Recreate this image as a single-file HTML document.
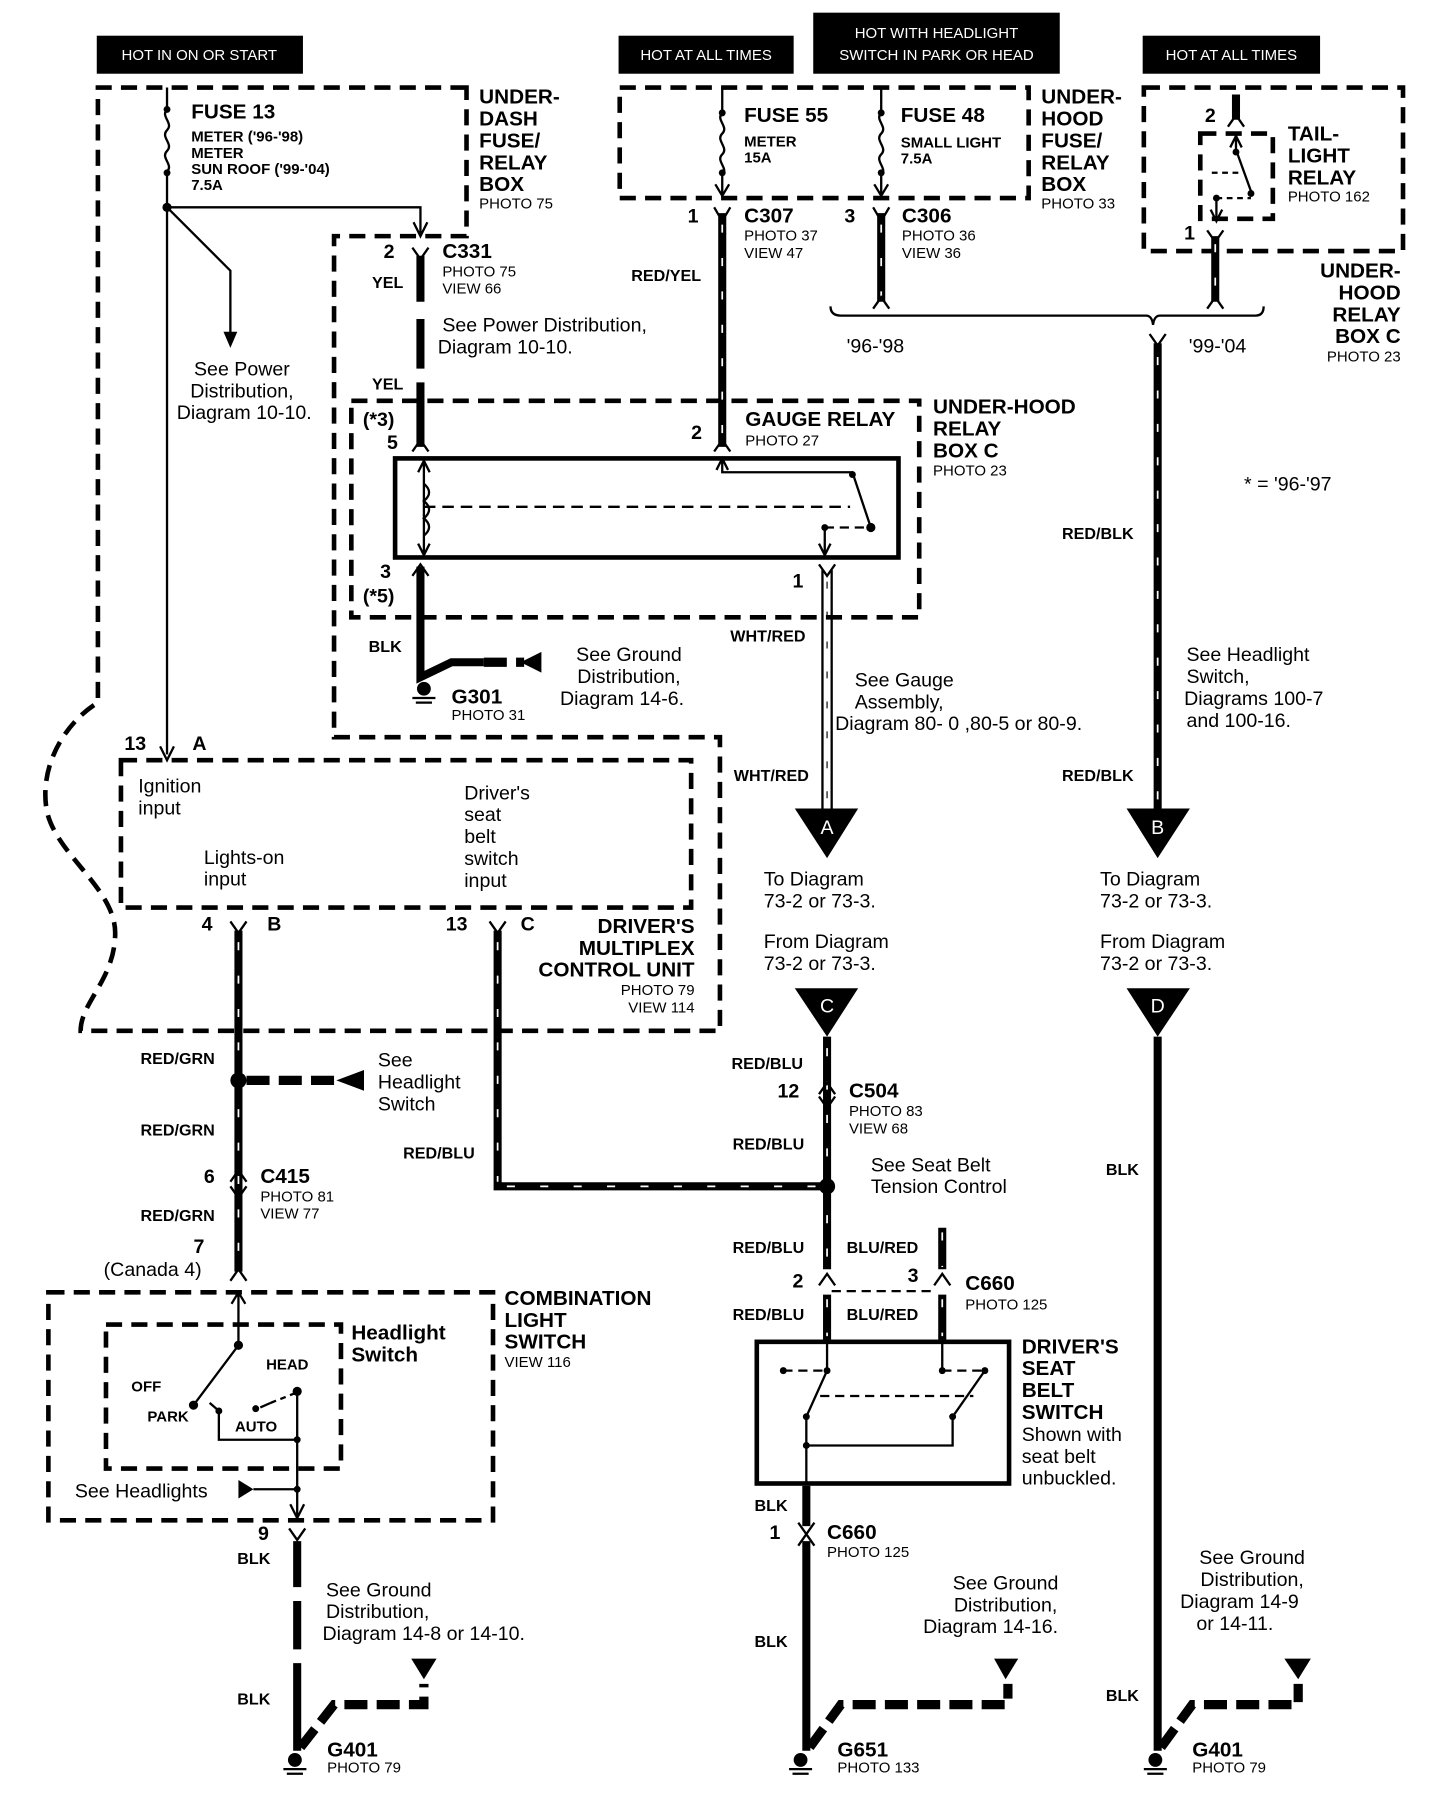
<!DOCTYPE html>
<html><head><meta charset="utf-8"><style>
html,body{margin:0;padding:0;background:#fff}
svg{display:block}
text{font-family:"Liberation Sans",Arial,sans-serif;fill:#000}
.b{font-weight:bold}
.h{font-size:18px;font-weight:bold}
.s{font-size:13px}
.m{font-size:17px}
.w{font-size:14px;font-weight:bold}
.hd{fill:#fff;font-size:13px}
.db{fill:none;stroke:#000;stroke-width:4;stroke-dasharray:14 8}
.thin{fill:none;stroke:#000;stroke-width:2}
.wire{fill:none;stroke:#000;stroke-width:7}
.str{fill:none;stroke:#fff;stroke-width:1.5;stroke-dasharray:7 22}
.gw{fill:none;stroke:#000;stroke-width:8;stroke-dasharray:20 8}
</style></head><body>
<svg width="1456" height="1806" viewBox="0 0 1264 1568" preserveAspectRatio="none" xmlns="http://www.w3.org/2000/svg">
<rect width="1280" height="1588" fill="#fff"/>
<!-- headers -->
<rect x="84" y="31" width="179" height="33" fill="#000"/><text x="173" y="52" class="hd" text-anchor="middle">HOT IN ON OR START</text>
<rect x="537" y="31" width="152" height="33" fill="#000"/><text x="613" y="52" class="hd" text-anchor="middle">HOT AT ALL TIMES</text>
<rect x="706" y="11" width="214" height="53" fill="#000"/><text x="813" y="33" class="hd" text-anchor="middle">HOT WITH HEADLIGHT</text><text x="813" y="52" class="hd" text-anchor="middle">SWITCH IN PARK OR HEAD</text>
<rect x="992" y="31" width="154" height="33" fill="#000"/><text x="1069" y="52" class="hd" text-anchor="middle">HOT AT ALL TIMES</text>

<!-- under-dash + multiplex outline -->
<path class="db" d="M405,76 L85,76 L85,610 C60,625 35,660 40,700 C45,740 100,770 100,810 C100,850 70,870 70,895 L625,895 L625,640 L290,640 L290,205 L405,205 Z"/>
<rect class="db" x="105" y="660" width="495" height="128"/>
<!-- gauge relay -->
<rect class="db" x="305" y="348" width="493" height="188"/>
<rect x="343" y="398" width="437" height="86" fill="none" stroke="#000" stroke-width="4"/>
<!-- underhood fuse -->
<rect class="db" x="538" y="76" width="355" height="96"/>
<rect class="db" x="993" y="76" width="225" height="142"/>
<rect class="db" x="1042" y="116" width="63" height="74"/>
<!-- combination switch -->
<rect class="db" x="42" y="1122" width="386" height="198"/>
<rect class="db" x="92" y="1150" width="204" height="125"/>

<!-- Fuse 13 -->
<path class="thin" d="M145,76 V95 M145,95 c-6,6 6,12 0,18 c-6,6 6,12 0,18 c-6,6 6,12 0,18 M145,150 V655"/>
<circle cx="145" cy="95" r="3"/><circle cx="145" cy="150" r="3"/><circle cx="145" cy="180" r="4"/>
<path d="M139,648 L145,660 L151,648" class="thin"/>
<path class="thin" d="M145,180 H365 V203 M359,193 L365,205 L371,193"/>
<path class="thin" d="M145,180 L200,235 V298"/><path d="M194,288 L200,302 L206,288 Z"/>
<text x="166" y="103" class="h">FUSE  13</text>
<text x="166" y="123" class="s b">METER ('96-'98)</text>
<text x="166" y="137" class="s b">METER</text>
<text x="166" y="151" class="s b">SUN ROOF ('99-'04)</text>
<text x="166" y="165" class="s b">7.5A</text>
<text x="416" y="90" class="h">UNDER-</text><text x="416" y="109" class="h">DASH</text><text x="416" y="128" class="h">FUSE/</text><text x="416" y="147" class="h">RELAY</text><text x="416" y="166" class="h">BOX</text><text x="416" y="181" class="s">PHOTO 75</text>
<text x="210" y="326" class="m" text-anchor="middle">See Power</text><text x="210" y="345" class="m" text-anchor="middle">Distribution,</text><text x="212" y="364" class="m" text-anchor="middle">Diagram 10-10.</text>

<!-- C331 wire -->
<path class="wire" d="M365,222 V262 M365,277 V320 M365,332 V388"/>
<path class="thin" d="M358,215 L365,225 L372,215"/>
<path class="thin" d="M358,392 L365,382 L372,392"/>
<text x="333" y="224" class="m b">2</text><text x="384" y="224" class="h">C331</text>
<text x="384" y="240" class="s">PHOTO 75</text><text x="384" y="255" class="s">VIEW 66</text>
<text x="323" y="250" class="w">YEL</text><text x="323" y="338" class="w">YEL</text>
<text x="384" y="288" class="m">See  Power Distribution,</text><text x="380" y="307" class="m">Diagram 10-10.</text>
<text x="315" y="370" class="m b">(*3)</text><text x="336" y="390" class="m b">5</text>
<!-- relay internals -->
<path class="thin" d="M368,400 V482 M363,410 L368,400 L373,410 M363,472 L368,482 L373,472"/>
<path class="thin" d="M368,420 c6,5 6,10 0,15 c6,5 6,10 0,15 c6,5 6,10 0,15"/>
<path d="M368,440 H738" fill="none" stroke="#000" stroke-width="2" stroke-dasharray="10 6"/>
<path class="thin" d="M627,398 V410 H740 L756,458 M622,408 L627,398 L632,408"/>
<circle cx="740" cy="412" r="3"/><circle cx="756" cy="458" r="4"/><circle cx="716" cy="458" r="3"/>
<path d="M716,458 H752" fill="none" stroke="#000" stroke-width="2" stroke-dasharray="8 5"/>
<path class="thin" d="M716,458 V482 M711,472 L716,482 L721,472"/>
<text x="330" y="502" class="m b">3</text><text x="315" y="523" class="m b">(*5)</text>
<path class="wire" d="M365,492 V588 L392,575 H420"/>
<path class="thin" d="M358,500 L365,490 L372,500"/>
<path class="gw" d="M420,575 H455"/><path d="M452,575 L470,566 V584 Z"/>
<text x="320" y="566" class="w">BLK</text>
<!-- ground G301 -->
<circle cx="368" cy="598" r="6"/><path class="thin" d="M358,606 H378 M361,610 H375"/>
<text x="392" y="611" class="h">G301</text><text x="392" y="625" class="s">PHOTO 31</text>
<text x="546" y="574" class="m" text-anchor="middle">See  Ground</text><text x="546" y="593" class="m" text-anchor="middle">Distribution,</text><text x="540" y="612" class="m" text-anchor="middle">Diagram 14-6.</text>
<text x="647" y="370" class="h">GAUGE RELAY</text><text x="647" y="387" class="s">PHOTO 27</text>
<text x="810" y="359" class="h">UNDER-HOOD</text><text x="810" y="378" class="h">RELAY</text><text x="810" y="397" class="h">BOX C</text><text x="810" y="413" class="s">PHOTO 23</text>
<text x="600" y="381" class="m b">2</text><text x="688" y="510" class="m b">1</text>

<!-- fuse 55 / 48 -->
<path class="thin" d="M627,76 V98 c-6,6 6,12 0,18 c-6,6 6,12 0,18 c-6,6 6,12 0,18 V168 M621,160 L627,170 L633,160"/>
<circle cx="627" cy="98" r="3"/><circle cx="627" cy="150" r="3"/>
<path class="thin" d="M765,76 V98 c-6,6 6,12 0,18 c-6,6 6,12 0,18 c-6,6 6,12 0,18 V168 M759,160 L765,170 L771,160"/>
<circle cx="765" cy="98" r="3"/><circle cx="765" cy="150" r="3"/>
<text x="646" y="106" class="h">FUSE  55</text><text x="646" y="127" class="s b">METER</text><text x="646" y="141" class="s b">15A</text>
<text x="782" y="106" class="h">FUSE  48</text><text x="782" y="128" class="s b">SMALL LIGHT</text><text x="782" y="142" class="s b">7.5A</text>
<text x="904" y="90" class="h">UNDER-</text><text x="904" y="109" class="h">HOOD</text><text x="904" y="128" class="h">FUSE/</text><text x="904" y="147" class="h">RELAY</text><text x="904" y="166" class="h">BOX</text><text x="904" y="181" class="s">PHOTO 33</text>
<!-- C307 -->
<path class="wire" d="M627,185 V388"/><path class="str" d="M627,195 V388"/>
<path class="thin" d="M620,180 L627,192 L634,180 M620,392 L627,382 L634,392"/>
<text x="597" y="193" class="m b">1</text><text x="646" y="193" class="h">C307</text><text x="646" y="209" class="s">PHOTO 37</text><text x="646" y="224" class="s">VIEW 47</text>
<text x="548" y="244" class="w">RED/YEL</text>
<!-- C306 -->
<path class="wire" d="M765,185 V262"/><path class="str" d="M765,195 V262"/>
<path class="thin" d="M758,180 L765,192 L772,180 M758,268 L765,258 L772,268"/>
<text x="733" y="193" class="m b">3</text><text x="783" y="193" class="h">C306</text><text x="783" y="209" class="s">PHOTO 36</text><text x="783" y="224" class="s">VIEW 36</text>
<!-- tail light relay -->
<path class="wire" d="M1073,82 V104"/><path class="thin" d="M1066,110 L1073,100 L1080,110"/>
<path class="thin" d="M1073,118 V130 L1086,166 M1068,128 L1073,118 L1078,128"/>
<circle cx="1073" cy="132" r="3"/><circle cx="1086" cy="168" r="3"/>
<path d="M1052,150 H1078 M1056,172 H1086" fill="none" stroke="#000" stroke-width="2" stroke-dasharray="5 4"/>
<path class="thin" d="M1056,172 V190 M1051,182 L1056,192 L1061,182"/><circle cx="1056" cy="172" r="3"/>
<text x="1046" y="106" class="m b">2</text><text x="1118" y="122" class="h">TAIL-</text><text x="1118" y="141" class="h">LIGHT</text><text x="1118" y="160" class="h">RELAY</text><text x="1118" y="175" class="s">PHOTO 162</text>
<text x="1028" y="208" class="m b">1</text>
<path class="wire" d="M1055,205 V262"/><path class="str" d="M1055,212 V262"/>
<path class="thin" d="M1048,200 L1055,210 L1062,200 M1048,268 L1055,258 L1062,268"/>
<text x="1216" y="241" class="h" text-anchor="end">UNDER-</text><text x="1216" y="260" class="h" text-anchor="end">HOOD</text><text x="1216" y="279" class="h" text-anchor="end">RELAY</text><text x="1216" y="298" class="h" text-anchor="end">BOX C</text><text x="1216" y="314" class="s" text-anchor="end">PHOTO 23</text>
<!-- brace -->
<path class="thin" d="M721,266 Q721,274 730,274 H995 Q1000,274 1001,282 Q1002,274 1007,274 H1090 Q1097,274 1097,266" stroke-width="3"/>
<text x="735" y="306" class="m">'96-'98</text><text x="1032" y="306" class="m">'99-'04</text>
<text x="1080" y="426" class="m">* = '96-'97</text>
<!-- RED/BLK -->
<path class="wire" d="M1005,298 V702"/><path class="str" d="M1005,310 V700"/>
<path class="thin" d="M998,290 L1005,300 L1012,290"/>
<text x="922" y="468" class="w">RED/BLK</text><text x="922" y="678" class="w">RED/BLK</text>
<text x="1030" y="574" class="m">See Headlight</text><text x="1030" y="593" class="m">Switch,</text><text x="1028" y="612" class="m">Diagrams 100-7</text><text x="1030" y="631" class="m">and 100-16.</text>
<path d="M978,702 H1033 L1005,745 Z"/><text x="1005" y="724" fill="#fff" style="fill:#fff" class="m" text-anchor="middle">B</text>
<text x="955" y="769" class="m">To Diagram</text><text x="955" y="788" class="m">73-2 or 73-3.</text>
<text x="955" y="823" class="m">From Diagram</text><text x="955" y="842" class="m">73-2 or 73-3.</text>
<!-- WHT/RED -->
<path d="M714,495 V702 M722,495 V702" class="thin"/>
<path d="M718,505 V700" fill="none" stroke="#000" stroke-width="1" stroke-dasharray="6 20"/>
<path class="thin" d="M711,490 L718,500 L725,490"/>
<text x="634" y="557" class="w">WHT/RED</text><text x="637" y="678" class="w">WHT/RED</text>
<text x="742" y="596" class="m">See Gauge</text><text x="742" y="615" class="m">Assembly,</text><text x="725" y="634" class="m">Diagram 80- 0 ,80-5 or 80-9.</text>
<path d="M690,702 H745 L718,745 Z"/><text x="718" y="724" style="fill:#fff" class="m" text-anchor="middle">A</text>
<text x="663" y="769" class="m">To Diagram</text><text x="663" y="788" class="m">73-2 or 73-3.</text>
<text x="663" y="823" class="m">From Diagram</text><text x="663" y="842" class="m">73-2 or 73-3.</text>

<!-- multiplex -->
<text x="108" y="651" class="m b">13</text><text x="167" y="651" class="m b">A</text>
<text x="120" y="688" class="m">Ignition</text><text x="120" y="707" class="m">input</text>
<text x="177" y="750" class="m">Lights-on</text><text x="177" y="769" class="m">input</text>
<text x="403" y="694" class="m">Driver's</text><text x="403" y="713" class="m">seat</text><text x="403" y="732" class="m">belt</text><text x="403" y="751" class="m">switch</text><text x="403" y="770" class="m">input</text>
<text x="175" y="808" class="m b">4</text><text x="232" y="808" class="m b">B</text>
<text x="387" y="808" class="m b">13</text><text x="452" y="808" class="m b">C</text>
<text x="603" y="810" class="h" text-anchor="end">DRIVER'S</text><text x="603" y="829" class="h" text-anchor="end">MULTIPLEX</text><text x="603" y="848" class="h" text-anchor="end">CONTROL UNIT</text><text x="603" y="864" class="s" text-anchor="end">PHOTO 79</text><text x="603" y="879" class="s" text-anchor="end">VIEW 114</text>
<!-- RED/GRN -->
<path class="wire" d="M207,808 V1104"/><path class="str" d="M207,818 V1100"/>
<path class="thin" d="M200,800 L207,810 L214,800 M200,1026 L207,1016 L214,1026 M200,1030 L207,1040 L214,1030 M200,1112 L207,1102 L214,1112"/>
<circle cx="207" cy="938" r="7"/>
<path class="gw" d="M214,938 H295"/><path d="M292,938 L316,929 V947 Z"/>
<text x="122" y="924" class="w">RED/GRN</text><text x="122" y="986" class="w">RED/GRN</text><text x="122" y="1060" class="w">RED/GRN</text>
<text x="328" y="926" class="m">See</text><text x="328" y="945" class="m">Headlight</text><text x="328" y="964" class="m">Switch</text>
<text x="177" y="1027" class="m b">6</text><text x="226" y="1027" class="h">C415</text><text x="226" y="1043" class="s">PHOTO 81</text><text x="226" y="1058" class="s">VIEW 77</text>
<text x="168" y="1088" class="m b">7</text><text x="90" y="1108" class="m">(Canada 4)</text>
<!-- RED/BLU from C -->
<path class="wire" d="M432,808 V1030 H712"/><path class="str" d="M432,818 V1026 M440,1030 H712"/>
<path class="thin" d="M425,800 L432,810 L439,800"/>
<text x="350" y="1006" class="w">RED/BLU</text>
<!-- C wire -->
<path d="M690,858 H745 L718,900 Z"/><text x="718" y="879" style="fill:#fff" class="m" text-anchor="middle">C</text>
<path class="wire" d="M718,900 V1102"/><path class="str" d="M718,910 V1100"/>
<path class="thin" d="M711,950 L718,940 L725,950 M711,952 L718,962 L725,952"/>
<circle cx="718" cy="1030" r="7"/>
<text x="635" y="928" class="w">RED/BLU</text><text x="675" y="953" class="m b">12</text><text x="737" y="953" class="h">C504</text><text x="737" y="969" class="s">PHOTO 83</text><text x="737" y="984" class="s">VIEW 68</text>
<text x="636" y="998" class="w">RED/BLU</text>
<text x="756" y="1017" class="m">See Seat Belt</text><text x="756" y="1036" class="m">Tension Control</text>
<path class="wire" d="M818,1066 V1102"/><path class="str" d="M818,1070 V1100"/>
<text x="636" y="1088" class="w">RED/BLU</text><text x="735" y="1088" class="w">BLU/RED</text>
<text x="688" y="1118" class="m b">2</text><text x="788" y="1113" class="m b">3</text><text x="838" y="1120" class="h">C660</text><text x="838" y="1137" class="s">PHOTO 125</text>
<path class="thin" d="M711,1116 L718,1106 L725,1116 M811,1116 L818,1106 L825,1116"/>
<path d="M722,1121 H812" fill="none" stroke="#000" stroke-width="2" stroke-dasharray="8 5"/>
<path class="wire" d="M718,1124 V1163 M818,1124 V1163"/><path class="str" d="M718,1128 V1160 M818,1128 V1160"/>
<text x="636" y="1146" class="w">RED/BLU</text><text x="735" y="1146" class="w">BLU/RED</text>
<!-- seat belt switch -->
<rect x="657" y="1165" width="219" height="123" fill="none" stroke="#000" stroke-width="4"/>
<path class="thin" d="M718,1165 V1190 L700,1230 V1255 H827 V1230 L855,1190 M818,1165 V1190"/>
<circle cx="718" cy="1190" r="3"/><circle cx="818" cy="1190" r="3"/><circle cx="855" cy="1190" r="3"/><circle cx="680" cy="1190" r="3"/><circle cx="700" cy="1230" r="3"/><circle cx="827" cy="1230" r="3"/><circle cx="700" cy="1255" r="3"/>
<path d="M680,1190 H716 M818,1190 H852 M712,1212 H845" fill="none" stroke="#000" stroke-width="2" stroke-dasharray="8 5"/>
<path class="thin" d="M700,1255 V1288"/>
<text x="887" y="1175" class="h">DRIVER'S</text><text x="887" y="1194" class="h">SEAT</text><text x="887" y="1213" class="h">BELT</text><text x="887" y="1232" class="h">SWITCH</text>
<text x="887" y="1251" class="m">Shown with</text><text x="887" y="1270" class="m">seat belt</text><text x="887" y="1289" class="m">unbuckled.</text>
<path class="wire" d="M700,1290 V1325 M700,1338 V1520"/>
<path class="thin" d="M693,1322 L700,1332 L707,1322 M693,1342 L700,1332 L707,1342"/>
<text x="655" y="1312" class="w">BLK</text><text x="668" y="1336" class="m b">1</text><text x="718" y="1336" class="h">C660</text><text x="718" y="1352" class="s">PHOTO 125</text>
<text x="655" y="1430" class="w">BLK</text>
<text x="873" y="1380" class="m" text-anchor="middle">See Ground</text><text x="873" y="1399" class="m" text-anchor="middle">Distribution,</text><text x="860" y="1418" class="m" text-anchor="middle">Diagram 14-16.</text>
<path class="gw" d="M703,1517 L730,1480 H875 V1462"/><path d="M863,1440 H884 L873,1458 Z"/>
<circle cx="695" cy="1528" r="6"/><path class="thin" d="M685,1536 H705 M688,1540 H702"/>
<text x="727" y="1525" class="h">G651</text><text x="727" y="1539" class="s">PHOTO 133</text>
<!-- D -->
<path d="M978,858 H1033 L1005,900 Z"/><text x="1005" y="879" style="fill:#fff" class="m" text-anchor="middle">D</text>
<path class="wire" d="M1005,900 V1520"/>
<text x="960" y="1020" class="w">BLK</text><text x="960" y="1477" class="w">BLK</text>
<text x="1087" y="1358" class="m" text-anchor="middle">See Ground</text><text x="1087" y="1377" class="m" text-anchor="middle">Distribution,</text><text x="1076" y="1396" class="m" text-anchor="middle">Diagram 14-9</text><text x="1072" y="1415" class="m" text-anchor="middle">or 14-11.</text>
<path class="gw" d="M1008,1517 L1035,1480 H1127 V1462"/><path d="M1115,1440 H1138 L1127,1458 Z"/>
<circle cx="1003" cy="1528" r="6"/><path class="thin" d="M993,1536 H1013 M996,1540 H1010"/>
<text x="1035" y="1525" class="h">G401</text><text x="1035" y="1539" class="s">PHOTO 79</text>
<!-- combination switch -->
<path class="thin" d="M207,1122 V1168 L168,1220 M201,1132 L207,1122 L213,1132"/>
<circle cx="207" cy="1168" r="4"/><circle cx="168" cy="1220" r="4"/><circle cx="190" cy="1225" r="3"/><circle cx="222" cy="1223" r="3"/><circle cx="258" cy="1208" r="4"/>
<path class="thin" d="M182,1218 L190,1225 V1250 H258 M226,1222 L235,1218"/>
<path d="M235,1218 L255,1210" fill="none" stroke="#000" stroke-width="2" stroke-dasharray="5 4"/>
<path class="thin" d="M258,1208 V1316 M252,1306 L258,1318 L264,1306"/>
<circle cx="258" cy="1250" r="3"/><circle cx="258" cy="1293" r="3"/>
<path class="thin" d="M220,1293 H258"/><path d="M207,1285 L220,1293 L207,1301 Z"/>
<text x="114" y="1208" class="s b">OFF</text><text x="231" y="1189" class="s b">HEAD</text><text x="128" y="1234" class="s b">PARK</text><text x="204" y="1243" class="s b">AUTO</text>
<text x="305" y="1163" class="h">Headlight</text><text x="305" y="1182" class="h">Switch</text>
<text x="438" y="1133" class="h">COMBINATION</text><text x="438" y="1152" class="h">LIGHT</text><text x="438" y="1171" class="h">SWITCH</text><text x="438" y="1187" class="s">VIEW 116</text>
<text x="65" y="1300" class="m">See Headlights</text>
<text x="224" y="1337" class="m b">9</text><text x="206" y="1358" class="w">BLK</text>
<path class="thin" d="M251,1327 L258,1337 L265,1327"/>
<path class="wire" d="M258,1338 V1378 M258,1390 V1432 M258,1444 V1520"/>
<text x="206" y="1480" class="w">BLK</text>
<text x="283" y="1386" class="m">See Ground</text><text x="283" y="1405" class="m">Distribution,</text><text x="280" y="1424" class="m">Diagram 14-8 or 14-10.</text>
<path class="gw" d="M261,1517 L290,1480 H368 V1462"/><path d="M357,1440 H379 L368,1458 Z"/>
<circle cx="256" cy="1528" r="6"/><path class="thin" d="M246,1536 H266 M249,1540 H263"/>
<text x="284" y="1525" class="h">G401</text><text x="284" y="1539" class="s">PHOTO 79</text>
</svg>
</body></html>
